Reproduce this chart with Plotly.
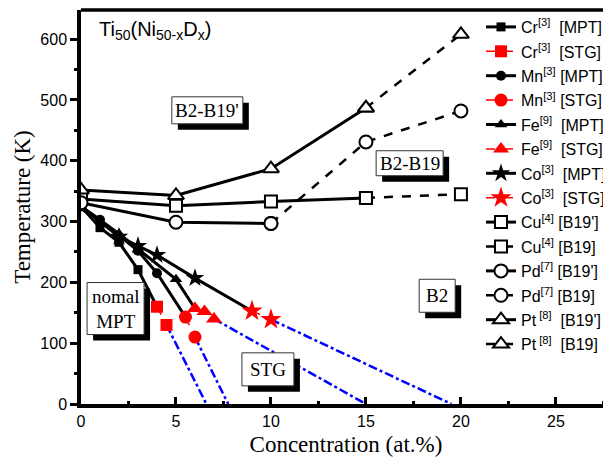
import plotly.graph_objects as go

# ---- data ----
cr_mpt_x = [0, 1, 2, 3, 4]
cr_mpt_y = [325, 290, 266, 221, 160]
cr_stg_x = [4, 4.5]
cr_stg_y = [160, 130]
cr_ext_x = [4.5, 6.6]
cr_ext_y = [130, 0]

mn_mpt_x = [0, 1, 3, 4, 5.5]
mn_mpt_y = [325, 303, 252, 215, 143]
mn_stg_x = [5.5, 6]
mn_stg_y = [143, 110]
mn_ext_x = [6, 7.75]
mn_ext_y = [110, 0]

fe_mpt_x = [0, 2, 3, 5, 6]
fe_mpt_y = [325, 280, 255, 205, 157]
fe_stg_x = [6, 6.5, 7]
fe_stg_y = [157, 152, 140]
fe_ext_x = [7, 15]
fe_ext_y = [140, 0]

co_mpt_x = [0, 2, 3, 4, 6, 9]
co_mpt_y = [325, 275, 260, 245, 207, 153]
co_stg_x = [9, 10]
co_stg_y = [153, 139]
co_ext_x = [10, 19.5]
co_ext_y = [139, 0]

cu_b19p_x = [0, 5, 10, 15]
cu_b19p_y = [337, 326, 333, 339]
cu_b19_x = [15, 20]
cu_b19_y = [339, 345]

pd_b19p_x = [0, 5, 10]
pd_b19p_y = [331, 299, 297]
pd_b19_x = [10, 15, 20]
pd_b19_y = [297, 431, 482]

pt_b19p_x = [0, 5, 10, 15]
pt_b19p_y = [352, 343, 387, 487]
pt_b19_x = [15, 20]
pt_b19_y = [487, 608]

# region labels: text, x, y (data coords of box centre), box w/h in px
region_text = ["B2-B19'", "B2-B19", "B2", "nomal<br>MPT", "STG"]
region_x = [6.65, 17.3, 18.75, 1.82, 9.84]
region_y = [483, 396, 178, 157, 57]
region_w = [71, 67, 36, 57, 52]
region_h = [27, 25, 33, 52, 33]

BLACK = "black"
RED = "#ff0000"
BLUE = "#0000ff"

fig = go.Figure()

counter = [0]
def add(x, y, name, color, dash, width, symbol, size, mcolor=None, mline=None):
    counter[0] += 1
    fig.add_trace(go.Scatter(
        x=x, y=y, name=name, mode="lines+markers", legendgroup=f"g{counter[0]}",
        line=dict(color=color, dash=dash, width=width),
        marker=dict(symbol=symbol, size=size,
                    color=mcolor if mcolor else color,
                    line=dict(color=mline if mline else color, width=2 if mline else 0)),
    ))

# blue extrapolation lines (drawn first)
for ex, ey in [(cr_ext_x, cr_ext_y), (mn_ext_x, mn_ext_y), (fe_ext_x, fe_ext_y), (co_ext_x, co_ext_y)]:
    fig.add_trace(go.Scatter(x=ex, y=ey, mode="lines", showlegend=False,
                             line=dict(color=BLUE, dash="dashdot", width=2.5)))

add(cr_mpt_x, cr_mpt_y, "Cr<sup>[3]</sup>  [MPT]", BLACK, "solid", 3, "square", 9)
add(cr_stg_x, cr_stg_y, "Cr<sup>[3]</sup>  [STG]", RED, "dash", 1.5, "square", 12)
add(mn_mpt_x, mn_mpt_y, "Mn<sup>[3]</sup> [MPT]", BLACK, "solid", 3, "circle", 10)
add(mn_stg_x, mn_stg_y, "Mn<sup>[3]</sup> [STG]", RED, "dash", 1.5, "circle", 13)
add(fe_mpt_x, fe_mpt_y, "Fe<sup>[9]</sup>  [MPT]", BLACK, "solid", 3, "triangle-up", 11)
add(fe_stg_x, fe_stg_y, "Fe<sup>[9]</sup>  [STG]", RED, "dash", 1.5, "triangle-up", 14)
add(co_mpt_x, co_mpt_y, "Co<sup>[3]</sup>  [MPT]", BLACK, "solid", 3, "star", 14)
add(co_stg_x, co_stg_y, "Co<sup>[3]</sup>  [STG]", RED, "dash", 1.5, "star", 16)
add(cu_b19p_x, cu_b19p_y, "Cu<sup>[4]</sup> [B19']", BLACK, "solid", 3, "square", 12, "white", BLACK)
add(cu_b19_x, cu_b19_y, "Cu<sup>[4]</sup> [B19]", BLACK, "dash", 2.5, "square", 12, "white", BLACK)
add(pd_b19p_x, pd_b19p_y, "Pd<sup>[7]</sup> [B19']", BLACK, "solid", 3, "circle", 13, "white", BLACK)
add(pd_b19_x, pd_b19_y, "Pd<sup>[7]</sup> [B19]", BLACK, "dash", 2.5, "circle", 13, "white", BLACK)
add(pt_b19p_x, pt_b19p_y, "Pt<sup> [8]</sup>  [B19']", BLACK, "solid", 3, "triangle-up", 14, "white", BLACK)
add(pt_b19_x, pt_b19_y, "Pt<sup> [8]</sup>  [B19]", BLACK, "dash", 2.5, "triangle-up", 14, "white", BLACK)

SERIF = "Liberation Serif, Times New Roman, serif"
SANS = "Liberation Sans, Arial, sans-serif"

for text, bx, by, w, h in zip(region_text, region_x, region_y, region_w, region_h):
    # shadow
    fig.add_shape(type="rect", xref="x", yref="y", xsizemode="pixel", ysizemode="pixel",
                  xanchor=bx, yanchor=by, x0=-w / 2 + 6, x1=w / 2 + 6, y0=-h / 2 - 6, y1=h / 2 - 6,
                  fillcolor="black", line=dict(width=0))
    # white box
    fig.add_shape(type="rect", xref="x", yref="y", xsizemode="pixel", ysizemode="pixel",
                  xanchor=bx, yanchor=by, x0=-w / 2, x1=w / 2, y0=-h / 2, y1=h / 2,
                  fillcolor="white", line=dict(color="#333333", width=1))
    fig.add_annotation(x=bx, y=by, text=text, showarrow=False,
                       font=dict(family=SERIF, size=19, color="black"))

fig.add_annotation(xref="paper", yref="y", x=0.03, y=614, xanchor="left", yanchor="middle",
                   text="Ti<sub>50</sub>(Ni<sub>50-x</sub>D<sub>x</sub>)", showarrow=False,
                   font=dict(family=SANS, size=20, color="black"))

# top border line
fig.add_shape(type="line", xref="paper", yref="paper", x0=0, x1=1, y0=1, y1=1,
              line=dict(color="black", width=3.5))

# page body adds an 8px offset; figure sized so the plot lands where the reference has it
fig.update_layout(
    width=603, height=460,
    margin=dict(l=73, r=0, t=2, b=64),
    paper_bgcolor="white", plot_bgcolor="white",
    legend=dict(x=0.755, y=1.0, xanchor="left", yanchor="top",
                font=dict(family=SANS, size=16, color="black"),
                bgcolor="rgba(0,0,0,0)", tracegroupgap=0.6, itemwidth=30),
    xaxis=dict(range=[0, 27.9], showgrid=False, zeroline=False, automargin=False,
               showline=True, linecolor="black", linewidth=3.5,
               ticks="inside", ticklen=7, tickwidth=3, tickcolor="black",
               tick0=0, dtick=5,
               minor=dict(ticks="inside", ticklen=3, tickwidth=3, dtick=2.5, tickcolor="black"),
               tickfont=dict(family=SANS, size=16, color="black"),
               title=dict(text="Concentration (at.%)", font=dict(family=SERIF, size=23, color="black"), standoff=8)),
    yaxis=dict(range=[0, 648], showgrid=False, zeroline=False, automargin=False,
               showline=True, linecolor="black", linewidth=3.5,
               ticks="outside", ticklen=7, tickwidth=3, tickcolor="black",
               tick0=0, dtick=100,
               minor=dict(ticks="outside", ticklen=3, tickwidth=3, dtick=50, tickcolor="black"),
               tickfont=dict(family=SANS, size=16, color="black"),
               title=dict(text="Temperature (K)", font=dict(family=SERIF, size=23, color="black"), standoff=4)),
)

fig.write_html("out.html")
